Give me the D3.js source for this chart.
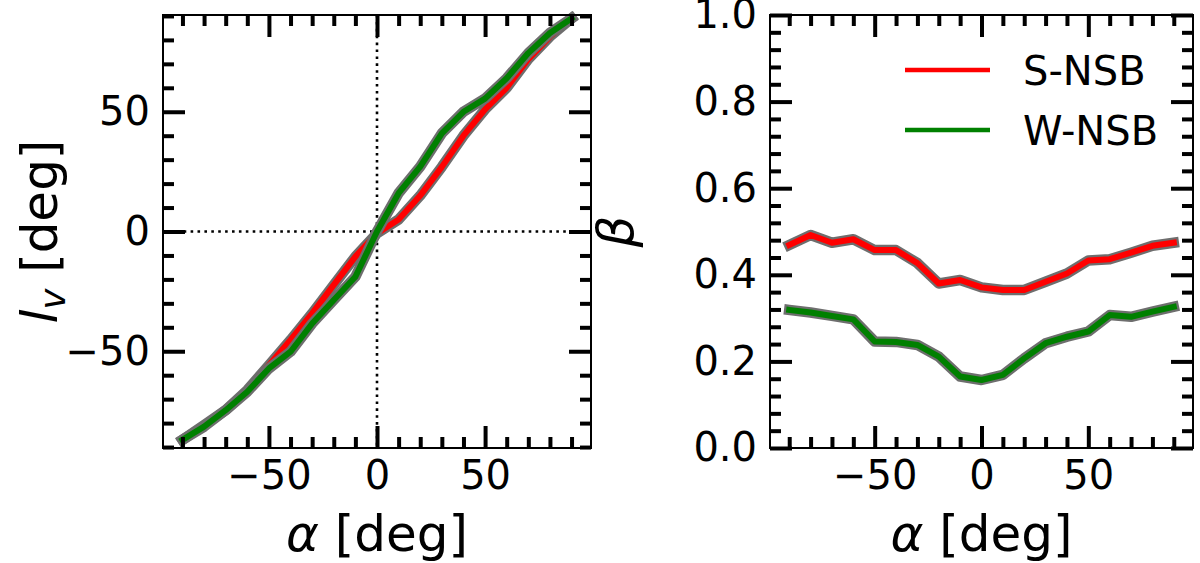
<!DOCTYPE html>
<html>
<head>
<meta charset="utf-8">
<script src="https://cdn.jsdelivr.net/npm/d3@7"></script>
<style>
  body { margin: 0; background: #fff; }
  svg { font-family: "DejaVu Sans", sans-serif; }
</style>
</head>
<body>
<div id="chart"></div>
<script>
// alpha sampling (deg), shared by both panels
var alpha = [-90, -80, -70, -60, -50, -40, -30, -20, -10, 0, 10, 20, 30, 40, 50, 60, 70, 80, 90];

// left panel: l_v vs alpha
var lvS = [-87, -80.8, -74.6, -66.2, -55.8, -45.3, -34.2, -22.3, -10.5, -0.8, 5, 15, 27, 40, 51, 60, 72, 81.4, 89];
var lvW = [-87, -81.5, -74.6, -66.9, -57.2, -50.2, -38.4, -28.6, -18.9, 0, 16, 27.1, 41, 50, 55.5, 64, 74.5, 82.9, 89];

// right panel: beta vs alpha
var betaS = [0.469, 0.492, 0.474, 0.482, 0.457, 0.457, 0.427, 0.380, 0.388, 0.371, 0.365, 0.365, 0.384, 0.403, 0.433, 0.436, 0.451, 0.467, 0.474];
var betaW = [0.319, 0.313, 0.305, 0.297, 0.246, 0.245, 0.238, 0.211, 0.165, 0.157, 0.169, 0.207, 0.242, 0.257, 0.269, 0.307, 0.303, 0.315, 0.326];

var seriesNames = ["S-NSB", "W-NSB"];
var seriesColors = ["#ff0000", "#008000"];

// ticks
var xMajor = [-50, 0, 50];
var xMinor = [-90, -80, -70, -60, -40, -30, -20, -10, 10, 20, 30, 40, 60, 70, 80, 90];
var lvMajor = [-50, 0, 50];
var lvMinor = [-90, -80, -70, -60, -40, -30, -20, -10, 10, 20, 30, 40, 60, 70, 80, 90];
var betaMajor = [0, 0.2, 0.4, 0.6, 0.8, 1.0];
var betaMinor = [0.04, 0.08, 0.12, 0.16, 0.24, 0.28, 0.32, 0.36, 0.44, 0.48, 0.52, 0.56, 0.64, 0.68, 0.72, 0.76, 0.84, 0.88, 0.92, 0.96];

var W = 1200, H = 563;
var top_ = 15, bottom_ = 448;
var bigTick = 22, smallTick = 11, tickW = 4, pad = 13;

var svg = d3.select("#chart").append("svg")
    .attr("width", W)
    .attr("height", H);

var x1 = d3.scaleLinear().domain([-99, 99]).range([163, 591]);
var y1 = d3.scaleLinear().domain([-90.4, 90.4]).range([bottom_, top_]);
var x2 = d3.scaleLinear().domain([-99, 99]).range([770, 1193]);
var y2 = d3.scaleLinear().domain([0, 1]).range([bottom_, top_]);

function drawLines(g, x, y, ys) {
  ys.forEach(function(vals, i) {
    var pts = alpha.map(function(a, j) { return [a, vals[j]]; });
    var line = d3.line()
        .x(function(d) { return x(d[0]); })
        .y(function(d) { return y(d[1]); });
    // gray outline first, coloured line on top
    g.append("path")
        .attr("d", line(pts))
        .attr("fill", "none")
        .attr("stroke", "#6e6e6e")
        .attr("stroke-width", 10.5)
        .attr("stroke-linejoin", "round")
        .attr("stroke-linecap", "square");
    g.append("path")
        .attr("d", line(pts))
        .attr("fill", "none")
        .attr("stroke", seriesColors[i])
        .attr("stroke-width", 6)
        .attr("stroke-linejoin", "round")
        .attr("stroke-linecap", "square");
  });
}

function styleAxis(sel, labels) {
  sel.select(".domain").remove();
  sel.selectAll("line").attr("stroke", "#000").attr("stroke-width", tickW);
  sel.selectAll("text")
      .attr("fill", "#000")
      .style("font-size", "40px")
      .style("font-family", "DejaVu Sans, sans-serif");
  if (!labels) sel.selectAll("text").remove();
}

function drawAxes(x, y, xMaj, xMin, yMaj, yMin, yFmt) {
  var x0 = x.range()[0], xEnd = x.range()[1];
  var g = svg.append("g");
  // bottom
  g.append("g").attr("transform", "translate(0," + bottom_ + ")")
      .call(d3.axisBottom(x).tickValues(xMin).tickSizeInner(-smallTick).tickSizeOuter(0))
      .call(styleAxis, false);
  g.append("g").attr("transform", "translate(0," + bottom_ + ")")
      .call(d3.axisBottom(x).tickValues(xMaj).tickSizeInner(-bigTick).tickSizeOuter(0).tickPadding(pad))
      .call(styleAxis, true);
  // top
  g.append("g").attr("transform", "translate(0," + top_ + ")")
      .call(d3.axisTop(x).tickValues(xMin).tickSizeInner(-smallTick).tickSizeOuter(0))
      .call(styleAxis, false);
  g.append("g").attr("transform", "translate(0," + top_ + ")")
      .call(d3.axisTop(x).tickValues(xMaj).tickSizeInner(-bigTick).tickSizeOuter(0))
      .call(styleAxis, false);
  // left
  g.append("g").attr("transform", "translate(" + x0 + ",0)")
      .call(d3.axisLeft(y).tickValues(yMin).tickSizeInner(-smallTick).tickSizeOuter(0))
      .call(styleAxis, false);
  g.append("g").attr("transform", "translate(" + x0 + ",0)")
      .call(d3.axisLeft(y).tickValues(yMaj).tickSizeInner(-bigTick).tickSizeOuter(0).tickPadding(pad).tickFormat(yFmt))
      .call(styleAxis, true);
  // right
  g.append("g").attr("transform", "translate(" + xEnd + ",0)")
      .call(d3.axisRight(y).tickValues(yMin).tickSizeInner(-smallTick).tickSizeOuter(0))
      .call(styleAxis, false);
  g.append("g").attr("transform", "translate(" + xEnd + ",0)")
      .call(d3.axisRight(y).tickValues(yMaj).tickSizeInner(-bigTick).tickSizeOuter(0))
      .call(styleAxis, false);
  // frame
  g.append("rect")
      .attr("x", x0).attr("y", top_)
      .attr("width", xEnd - x0).attr("height", bottom_ - top_)
      .attr("fill", "none")
      .attr("stroke", "#000")
      .attr("stroke-width", 2);
}

// ---- left panel ----
var gL = svg.append("g");
gL.append("line")
    .attr("x1", x1(0)).attr("x2", x1(0))
    .attr("y1", top_).attr("y2", bottom_)
    .attr("stroke", "#000").attr("stroke-width", 2.6)
    .attr("stroke-dasharray", "2.6,4.3");
gL.append("line")
    .attr("x1", x1.range()[0]).attr("x2", x1.range()[1])
    .attr("y1", y1(0)).attr("y2", y1(0))
    .attr("stroke", "#000").attr("stroke-width", 2.6)
    .attr("stroke-dasharray", "2.6,4.3");
drawLines(gL, x1, y1, [lvS, lvW]);
drawAxes(x1, y1, xMajor, xMinor, lvMajor, lvMinor, d3.format("d"));

// ---- right panel ----
var gR = svg.append("g");
drawLines(gR, x2, y2, [betaS, betaW]);
drawAxes(x2, y2, xMajor, xMinor, betaMajor, betaMinor, d3.format(".1f"));

// legend
var leg = svg.append("g");
seriesNames.forEach(function(name, i) {
  var ly = 70 + i * 60;
  leg.append("line")
      .attr("x1", 905).attr("x2", 990)
      .attr("y1", ly).attr("y2", ly)
      .attr("stroke", seriesColors[i])
      .attr("stroke-width", 4.5);
  leg.append("text")
      .attr("x", 1023).attr("y", ly + 14.5)
      .style("font-size", "40px")
      .text(name);
});

// axis labels
[x1, x2].forEach(function(x) {
  var t = svg.append("text")
      .attr("x", (x.range()[0] + x.range()[1]) / 2)
      .attr("y", 551)
      .attr("text-anchor", "middle")
      .style("font-size", "50px");
  t.append("tspan").attr("font-style", "italic").text("α");
  t.append("tspan").text(" [deg]");
});

var yl = svg.append("text")
    .attr("transform", "translate(57," + ((top_ + bottom_) / 2) + ") rotate(-90)")
    .attr("text-anchor", "middle")
    .style("font-size", "50px");
yl.append("tspan").attr("font-style", "italic").text("l");
yl.append("tspan").attr("font-style", "italic").attr("dy", 8).style("font-size", "35px").text("v");
yl.append("tspan").attr("dy", -8).text(" [deg]");

svg.append("text")
    .attr("transform", "translate(633," + ((top_ + bottom_) / 2) + ") rotate(-90)")
    .attr("text-anchor", "middle")
    .attr("font-style", "italic")
    .style("font-size", "50px")
    .text("β");
</script>
</body>
</html>
